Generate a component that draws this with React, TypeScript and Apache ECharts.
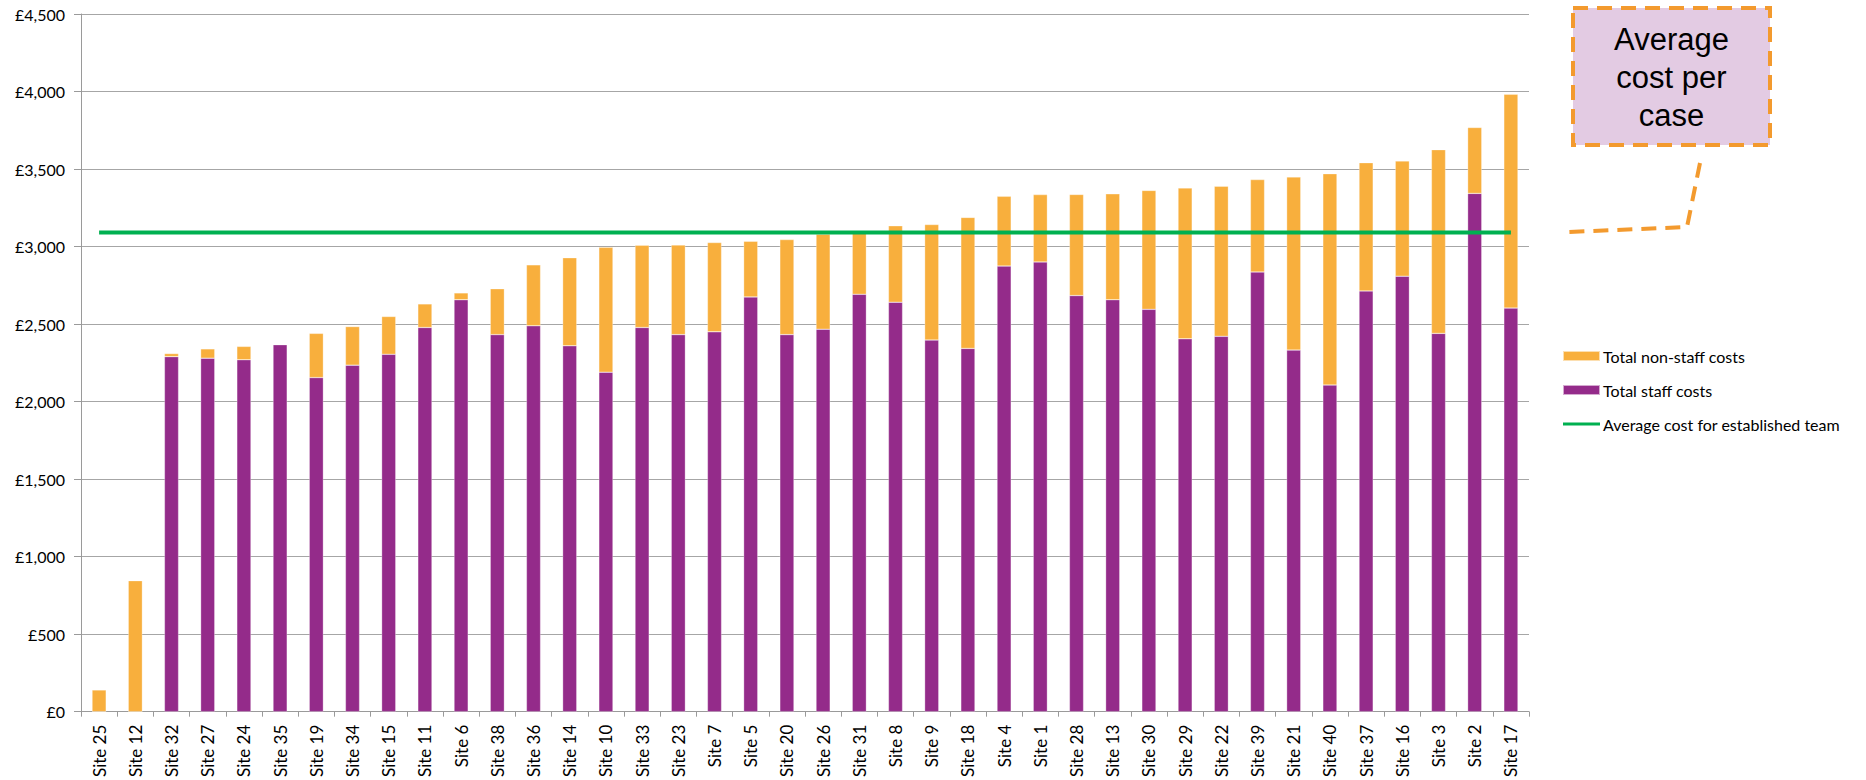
import React, { useEffect, useRef } from "react";
import * as echarts from "echarts";

const sites = [
  "Site 25", "Site 12", "Site 32", "Site 27", "Site 24", "Site 35", "Site 19", "Site 34",
  "Site 15", "Site 11", "Site 6", "Site 38", "Site 36", "Site 14", "Site 10", "Site 33",
  "Site 23", "Site 7", "Site 5", "Site 20", "Site 26", "Site 31", "Site 8", "Site 9",
  "Site 18", "Site 4", "Site 1", "Site 28", "Site 13", "Site 30", "Site 29", "Site 22",
  "Site 39", "Site 21", "Site 40", "Site 37", "Site 16", "Site 3", "Site 2", "Site 17",
];

const staffCosts = [
  0, 0, 2290, 2280, 2270, 2367, 2155, 2235,
  2305, 2478, 2657, 2432, 2489, 2360, 2190, 2478,
  2432, 2450, 2675, 2432, 2467, 2692, 2641, 2397,
  2343, 2874, 2901, 2684, 2657, 2595, 2405, 2421,
  2836, 2332, 2107, 2714, 2809, 2440, 3343, 2603,
];

const nonStaffCosts = [
  140, 845, 20, 60, 86, 3, 285, 249,
  244, 152, 44, 296, 393, 568, 805, 531,
  578, 576, 359, 613, 613, 403, 493, 745,
  845, 450, 434, 652, 683, 767, 973, 968,
  596, 1117, 1363, 827, 743, 1185, 425, 1379,
];

const averageEstablished = 3090;

const yTicks = { min: 0, max: 4500, interval: 500 };

const NAME_NON_STAFF = "Total non-staff costs";
const NAME_STAFF = "Total staff costs";
const NAME_AVG = "Average cost for established team";

const FONT = "Lato, 'Open Sans', 'DejaVu Sans', sans-serif";

const LINE_ICON =
  "path://M0,0 L0.05,0 L0.05,0.05 Z M0,3.5 L37,3.5 L37,6.5 L0,6.5 Z M36.95,9.95 L37,9.95 L37,10 Z";

export default function App() {
  const ref = useRef<HTMLDivElement>(null);

  useEffect(() => {
    if (!ref.current) return;
    const chart = echarts.init(ref.current, undefined, { renderer: "svg" });
    const orange = "#F8AF3D";
    const purple = "#942B8A";
    const green = "#00B050";
    const dashOrange = "#F39A2E";

    chart.setOption({
      animation: false,
      backgroundColor: "#ffffff",
      textStyle: { fontFamily: FONT },
      grid: { left: 81, right: 337, top: 14, bottom: 67, containLabel: false },
      legend: {
        orient: "vertical",
        left: 1557,
        top: 343,
        itemGap: 18,
        itemWidth: 37,
        itemHeight: 10,
        textStyle: { fontFamily: FONT, fontSize: 16, lineHeight: 16, color: "#000", padding: [0, 0, 0, -2] },
        data: [
          { name: NAME_NON_STAFF, icon: "rect" },
          { name: NAME_STAFF, icon: "rect" },
          { name: NAME_AVG, icon: LINE_ICON, itemStyle: { color: green } },
        ],
      },
      xAxis: {
        type: "category",
        data: sites,
        boundaryGap: true,
        axisLine: { show: true, lineStyle: { color: "#9A9A9A", width: 1 } },
        axisTick: { show: true, alignWithLabel: false, length: 5, lineStyle: { color: "#9A9A9A" } },
        axisLabel: {
          rotate: 90,
          interval: 0,
          fontSize: 17,
          color: "#000",
          fontFamily: FONT,
          margin: 13,
        },
      },
      yAxis: {
        type: "value",
        min: yTicks.min,
        max: yTicks.max,
        interval: yTicks.interval,
        axisLine: { show: true, lineStyle: { color: "#9A9A9A", width: 1 } },
        axisTick: { show: true, length: 7, lineStyle: { color: "#9A9A9A" } },
        splitLine: { show: true, lineStyle: { color: "#A6A6A6", width: 1 } },
        axisLabel: {
          fontSize: 16,
          color: "#000",
          fontFamily: FONT,
          margin: 16,
          formatter: (v: number) => "£" + v.toLocaleString("en-GB"),
        },
      },
      series: [
        {
          name: NAME_STAFF,
          type: "bar",
          stack: "cost",
          barWidth: "39%",
          data: staffCosts,
          itemStyle: { color: purple, borderColor: "rgba(255,255,255,0.6)", borderWidth: 0.5 },
        },
        {
          name: NAME_NON_STAFF,
          type: "bar",
          stack: "cost",
          barWidth: "39%",
          data: nonStaffCosts,
          itemStyle: { color: orange, borderColor: "rgba(255,255,255,0.6)", borderWidth: 0.5 },
        },
        {
          name: NAME_AVG,
          type: "line",
          data: sites.map(() => averageEstablished),
          symbol: "none",
          lineStyle: { color: green, width: 4 },
          itemStyle: { color: green },
          z: 5,
        },
      ],
      graphic: [
        {
          type: "rect",
          shape: { x: 1573, y: 8, width: 197, height: 137 },
          style: { fill: "#E3CBE3", stroke: dashOrange, lineWidth: 4, lineDash: [15, 9] },
          z: 10,
        },
        {
          type: "text",
          x: 1671.5,
          y: 77,
          style: {
            text: "Average\ncost per\ncase",
            fill: "#000",
            font: "31px 'Liberation Sans', Arial, sans-serif",
            lineHeight: 38,
            align: "center",
            verticalAlign: "middle",
          },
          z: 11,
        },
        {
          type: "polyline",
          shape: { points: [[1700, 163], [1687, 227], [1568, 232]] },
          style: { stroke: dashOrange, lineWidth: 4, lineDash: [15, 9], fill: "none" },
          z: 10,
        },
      ],
    });

    return () => chart.dispose();
  }, []);

  return (
    <div
      ref={ref}
      style={{ position: "absolute", left: 0, top: 0, width: 1866, height: 780 }}
    />
  );
}
